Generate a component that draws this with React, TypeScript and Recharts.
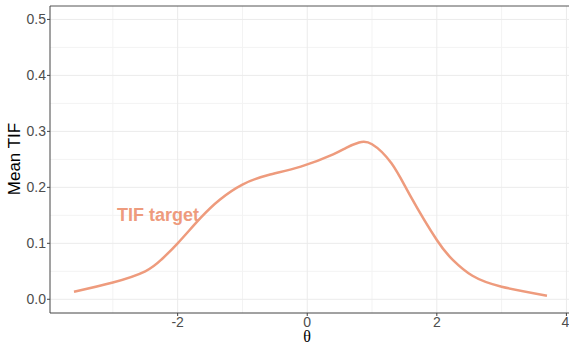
import { LineChart, Line, XAxis, YAxis, ReferenceLine, Label } from "recharts";

// values
const theta = [-3.6, -3.0, -2.5, -2.25, -2.0, -1.65, -1.35, -1.0, -0.6, -0.1, 0.4, 0.6, 0.8, 1.0, 1.3, 1.6, 2.0, 2.25, 2.55, 3.0, 3.7];
const meanTif = [0.0136, 0.03, 0.05, 0.071, 0.1, 0.145, 0.178, 0.205, 0.222, 0.237, 0.259, 0.2705, 0.28, 0.277, 0.243, 0.183, 0.106, 0.07, 0.042, 0.0225, 0.0065];

const xTicks = [-2, 0, 2, 4];
const yTicks = [0, 0.1, 0.2, 0.3, 0.4, 0.5];
const xMinor = [-3, -1, 1, 3];
const yMinor = [0.05, 0.15, 0.25, 0.35, 0.45];

const data = theta.map((t, i) => ({ theta: t, tif: meanTif[i] }));

const LINE_COLOR = "#EE9B7D";
const FONT = "Liberation Sans, Arial, sans-serif";

const App = () => {
  return (
    <div style={{ position: "fixed", left: 0, top: 0, width: 569, height: 342, background: "#fff" }}>
      <LineChart width={569} height={342} data={data} margin={{ top: 6, right: 0, bottom: 0, left: 0 }}>
        {yMinor.map((v) => (
          <ReferenceLine key={"ym" + v} y={v} stroke="#F3F3F3" strokeWidth={1} />
        ))}
        {xMinor.map((v) => (
          <ReferenceLine key={"xm" + v} x={v} stroke="#F3F3F3" strokeWidth={1} />
        ))}
        {yTicks.map((v) => (
          <ReferenceLine key={"y" + v} y={v} stroke="#EBEBEB" strokeWidth={1} />
        ))}
        {xTicks.map((v) => (
          <ReferenceLine key={"x" + v} x={v} stroke="#EBEBEB" strokeWidth={1} />
        ))}
        <ReferenceLine y={0.524} stroke="#555" strokeWidth={1} />
        <XAxis
          dataKey="theta"
          type="number"
          domain={[-3.97, 4.04]}
          ticks={xTicks}
          allowDataOverflow
          height={29}
          tickSize={3}
          tickMargin={1}
          stroke="#444"
          tick={{ fontSize: 14, fill: "#4D4D4D", fontFamily: FONT }}
          axisLine={{ stroke: "#444" }}
          tickLine={{ stroke: "#444" }}
        >
          <Label
            content={() => (
              <text x={307} y={342} textAnchor="middle" fontSize={16} fontFamily="Liberation Serif, serif" fill="#000">
                θ
              </text>
            )}
          />
        </XAxis>
        <YAxis
          type="number"
          domain={[-0.0245, 0.524]}
          ticks={yTicks}
          allowDataOverflow
          width={50}
          tickSize={3}
          tickMargin={1}
          tickFormatter={(v: number) => v.toFixed(1)}
          tick={{ fontSize: 14, fill: "#4D4D4D", fontFamily: FONT }}
          axisLine={{ stroke: "#444" }}
          tickLine={{ stroke: "#444" }}
        >
          <Label
            content={() => (
              <text
                x={20}
                y={159}
                textAnchor="middle"
                fontSize={17}
                fontFamily={FONT}
                fill="#000"
                transform="rotate(-90 20 159)"
              >
                Mean TIF
              </text>
            )}
          />
        </YAxis>
        <Line
          type="natural"
          dataKey="tif"
          stroke={LINE_COLOR}
          strokeWidth={2.5}
          dot={false}
          isAnimationActive={false}
        />
        <ReferenceLine
          y={0.15}
          stroke="none"
          label={{
            value: "TIF target",
            position: "insideLeft",
            content: () => (
              <text x={158} y={221} textAnchor="middle" fontSize={18} fontWeight="bold" fontFamily={FONT} fill={LINE_COLOR}>
                TIF target
              </text>
            ),
          }}
        />
      </LineChart>
    </div>
  );
};

export default App;
